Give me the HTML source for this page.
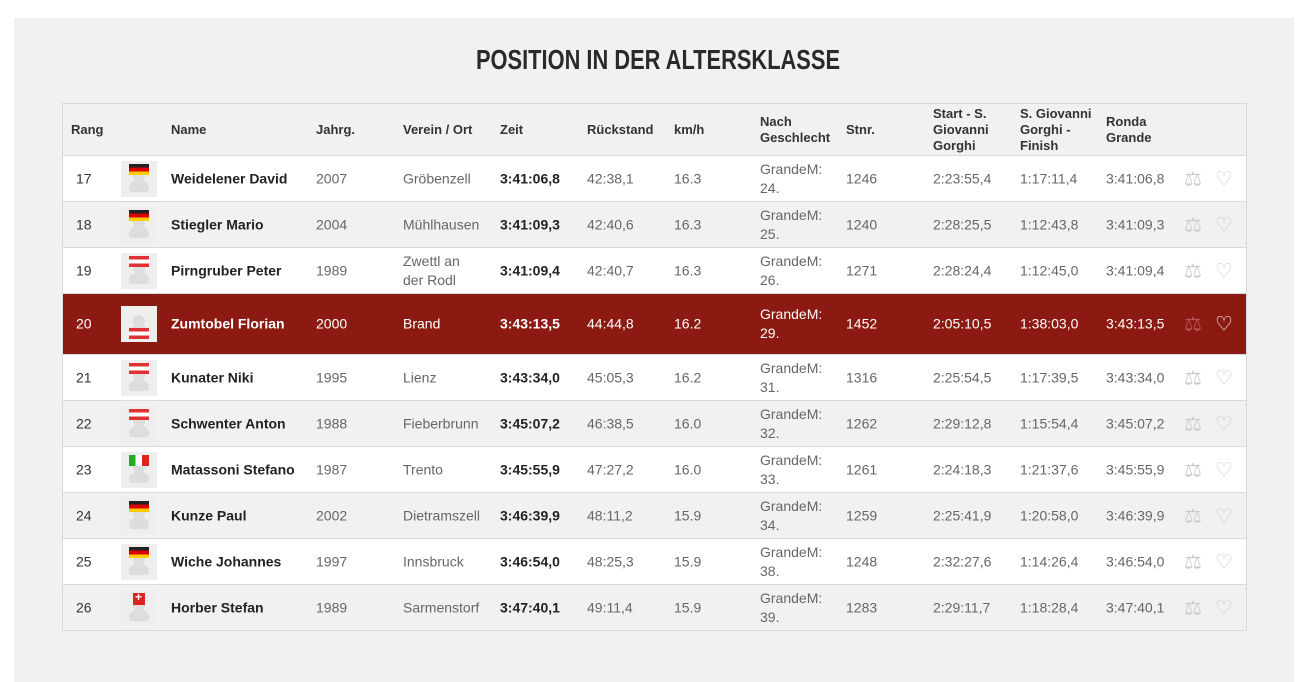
<!DOCTYPE html>
<html><head><meta charset="utf-8"><style>
body{margin:0;width:1316px;height:682px;background:#fff;font-family:"Liberation Sans",sans-serif;position:relative;overflow:hidden}
.panel{position:absolute;left:14px;top:18px;width:1280px;height:664px;background:#f1f1f1}
h1{position:absolute;left:0;width:1316px;top:44px;margin:0;text-align:center;font-size:28px;font-weight:bold;color:#2a2a2a;letter-spacing:0;transform:scaleX(0.78);}
.tbl{position:absolute;left:62px;top:103px;width:1183px;border:1px solid #d8d8e0;}
.row{position:relative;height:45px;border-top:1px solid #d8d8e0;font-size:14px;color:#666;}
.row.w{background:#fff}.row.g{background:#f1f1f1}
.row.h{background:#8d1a12;color:#fff;height:60px}
.hd{height:51px;background:#f1f1f1;font-size:13px;font-weight:bold;color:#333;position:relative}
.c{position:absolute;top:50%;transform:translateY(-50%);line-height:19px}
.hd .c{line-height:16px}
.rk{color:#333}.h .rk{color:#fff}
.nm{font-weight:bold;color:#222}.h .nm,.h .zt{color:#fff}
.zt{font-weight:bold;color:#222}
.av{position:absolute;left:58px;top:50%;margin-top:-18px;width:36px;height:36px;background:#eee}
.av .hd1{position:absolute;left:12px;top:9px;width:12px;height:12px;border-radius:50%;background:#ddd}
.av .bd{position:absolute;left:8px;top:20px;width:20px;height:11px;border-radius:7px 7px 3px 3px;background:#ddd}
.fl{position:absolute;left:8px;top:3px;width:20px;height:11px}
.h .fl{top:22px}
.de{background:linear-gradient(#222 0 33%,#d00 33% 66%,#fc0 66%)}
.at{background:linear-gradient(#d33 0 33%,#fff 33% 66%,#d33 66%)}
.it{background:linear-gradient(90deg,#2a2 0 33%,#fff 33% 66%,#d22 66%)}
.ch{background:#d22;width:12px;left:12px;height:12px}
.ch:after{content:"+";color:#fff;font-size:12px;font-weight:bold;position:absolute;left:2px;top:-3px}
.ic{position:absolute;top:50%;transform:translateY(-50%);color:#ccc;font-size:20px}
.h .ic.sc{color:#b55}.h .ic.ht{color:#fff}
</style></head><body>
<div class="panel"></div>
<h1>POSITION IN DER ALTERSKLASSE</h1>
<div class="tbl">
<div class="hd">
<span class="c" style="left:8px">Rang</span><span class="c" style="left:108px">Name</span><span class="c" style="left:253px">Jahrg.</span><span class="c" style="left:340px">Verein / Ort</span><span class="c" style="left:437px">Zeit</span><span class="c" style="left:524px">Rückstand</span><span class="c" style="left:611px">km/h</span><span class="c" style="left:697px">Nach<br>Geschlecht</span><span class="c" style="left:783px">Stnr.</span><span class="c" style="left:870px">Start - S.<br>Giovanni<br>Gorghi</span><span class="c" style="left:957px">S. Giovanni<br>Gorghi -<br>Finish</span><span class="c" style="left:1043px">Ronda<br>Grande</span>
</div>
<div class="row w"><span class="c rk" style="left:13px">17</span><div class="av"><div class="hd1"></div><div class="bd"></div><div class="fl de"></div></div><span class="c nm" style="left:108px">Weidelener David</span><span class="c" style="left:253px">2007</span><span class="c" style="left:340px">Gröbenzell</span><span class="c zt" style="left:437px">3:41:06,8</span><span class="c" style="left:524px">42:38,1</span><span class="c" style="left:611px">16.3</span><span class="c" style="left:697px">GrandeM:<br>24.</span><span class="c" style="left:783px">1246</span><span class="c" style="left:870px">2:23:55,4</span><span class="c" style="left:957px">1:17:11,4</span><span class="c" style="left:1043px">3:41:06,8</span><span class="ic sc" style="left:1121px">⚖</span><span class="ic ht" style="left:1152px">♡</span></div>
<div class="row g"><span class="c rk" style="left:13px">18</span><div class="av"><div class="hd1"></div><div class="bd"></div><div class="fl de"></div></div><span class="c nm" style="left:108px">Stiegler Mario</span><span class="c" style="left:253px">2004</span><span class="c" style="left:340px">Mühlhausen</span><span class="c zt" style="left:437px">3:41:09,3</span><span class="c" style="left:524px">42:40,6</span><span class="c" style="left:611px">16.3</span><span class="c" style="left:697px">GrandeM:<br>25.</span><span class="c" style="left:783px">1240</span><span class="c" style="left:870px">2:28:25,5</span><span class="c" style="left:957px">1:12:43,8</span><span class="c" style="left:1043px">3:41:09,3</span><span class="ic sc" style="left:1121px">⚖</span><span class="ic ht" style="left:1152px">♡</span></div>
<div class="row w"><span class="c rk" style="left:13px">19</span><div class="av"><div class="hd1"></div><div class="bd"></div><div class="fl at"></div></div><span class="c nm" style="left:108px">Pirngruber Peter</span><span class="c" style="left:253px">1989</span><span class="c" style="left:340px">Zwettl an<br>der Rodl</span><span class="c zt" style="left:437px">3:41:09,4</span><span class="c" style="left:524px">42:40,7</span><span class="c" style="left:611px">16.3</span><span class="c" style="left:697px">GrandeM:<br>26.</span><span class="c" style="left:783px">1271</span><span class="c" style="left:870px">2:28:24,4</span><span class="c" style="left:957px">1:12:45,0</span><span class="c" style="left:1043px">3:41:09,4</span><span class="ic sc" style="left:1121px">⚖</span><span class="ic ht" style="left:1152px">♡</span></div>
<div class="row h"><span class="c rk" style="left:13px">20</span><div class="av"><div class="hd1"></div><div class="bd"></div><div class="fl at"></div></div><span class="c nm" style="left:108px">Zumtobel Florian</span><span class="c" style="left:253px">2000</span><span class="c" style="left:340px">Brand</span><span class="c zt" style="left:437px">3:43:13,5</span><span class="c" style="left:524px">44:44,8</span><span class="c" style="left:611px">16.2</span><span class="c" style="left:697px">GrandeM:<br>29.</span><span class="c" style="left:783px">1452</span><span class="c" style="left:870px">2:05:10,5</span><span class="c" style="left:957px">1:38:03,0</span><span class="c" style="left:1043px">3:43:13,5</span><span class="ic sc" style="left:1121px">⚖</span><span class="ic ht" style="left:1152px">♡</span></div>
<div class="row w"><span class="c rk" style="left:13px">21</span><div class="av"><div class="hd1"></div><div class="bd"></div><div class="fl at"></div></div><span class="c nm" style="left:108px">Kunater Niki</span><span class="c" style="left:253px">1995</span><span class="c" style="left:340px">Lienz</span><span class="c zt" style="left:437px">3:43:34,0</span><span class="c" style="left:524px">45:05,3</span><span class="c" style="left:611px">16.2</span><span class="c" style="left:697px">GrandeM:<br>31.</span><span class="c" style="left:783px">1316</span><span class="c" style="left:870px">2:25:54,5</span><span class="c" style="left:957px">1:17:39,5</span><span class="c" style="left:1043px">3:43:34,0</span><span class="ic sc" style="left:1121px">⚖</span><span class="ic ht" style="left:1152px">♡</span></div>
<div class="row g"><span class="c rk" style="left:13px">22</span><div class="av"><div class="hd1"></div><div class="bd"></div><div class="fl at"></div></div><span class="c nm" style="left:108px">Schwenter Anton</span><span class="c" style="left:253px">1988</span><span class="c" style="left:340px">Fieberbrunn</span><span class="c zt" style="left:437px">3:45:07,2</span><span class="c" style="left:524px">46:38,5</span><span class="c" style="left:611px">16.0</span><span class="c" style="left:697px">GrandeM:<br>32.</span><span class="c" style="left:783px">1262</span><span class="c" style="left:870px">2:29:12,8</span><span class="c" style="left:957px">1:15:54,4</span><span class="c" style="left:1043px">3:45:07,2</span><span class="ic sc" style="left:1121px">⚖</span><span class="ic ht" style="left:1152px">♡</span></div>
<div class="row w"><span class="c rk" style="left:13px">23</span><div class="av"><div class="hd1"></div><div class="bd"></div><div class="fl it"></div></div><span class="c nm" style="left:108px">Matassoni Stefano</span><span class="c" style="left:253px">1987</span><span class="c" style="left:340px">Trento</span><span class="c zt" style="left:437px">3:45:55,9</span><span class="c" style="left:524px">47:27,2</span><span class="c" style="left:611px">16.0</span><span class="c" style="left:697px">GrandeM:<br>33.</span><span class="c" style="left:783px">1261</span><span class="c" style="left:870px">2:24:18,3</span><span class="c" style="left:957px">1:21:37,6</span><span class="c" style="left:1043px">3:45:55,9</span><span class="ic sc" style="left:1121px">⚖</span><span class="ic ht" style="left:1152px">♡</span></div>
<div class="row g"><span class="c rk" style="left:13px">24</span><div class="av"><div class="hd1"></div><div class="bd"></div><div class="fl de"></div></div><span class="c nm" style="left:108px">Kunze Paul</span><span class="c" style="left:253px">2002</span><span class="c" style="left:340px">Dietramszell</span><span class="c zt" style="left:437px">3:46:39,9</span><span class="c" style="left:524px">48:11,2</span><span class="c" style="left:611px">15.9</span><span class="c" style="left:697px">GrandeM:<br>34.</span><span class="c" style="left:783px">1259</span><span class="c" style="left:870px">2:25:41,9</span><span class="c" style="left:957px">1:20:58,0</span><span class="c" style="left:1043px">3:46:39,9</span><span class="ic sc" style="left:1121px">⚖</span><span class="ic ht" style="left:1152px">♡</span></div>
<div class="row w"><span class="c rk" style="left:13px">25</span><div class="av"><div class="hd1"></div><div class="bd"></div><div class="fl de"></div></div><span class="c nm" style="left:108px">Wiche Johannes</span><span class="c" style="left:253px">1997</span><span class="c" style="left:340px">Innsbruck</span><span class="c zt" style="left:437px">3:46:54,0</span><span class="c" style="left:524px">48:25,3</span><span class="c" style="left:611px">15.9</span><span class="c" style="left:697px">GrandeM:<br>38.</span><span class="c" style="left:783px">1248</span><span class="c" style="left:870px">2:32:27,6</span><span class="c" style="left:957px">1:14:26,4</span><span class="c" style="left:1043px">3:46:54,0</span><span class="ic sc" style="left:1121px">⚖</span><span class="ic ht" style="left:1152px">♡</span></div>
<div class="row g"><span class="c rk" style="left:13px">26</span><div class="av"><div class="hd1"></div><div class="bd"></div><div class="fl ch"></div></div><span class="c nm" style="left:108px">Horber Stefan</span><span class="c" style="left:253px">1989</span><span class="c" style="left:340px">Sarmenstorf</span><span class="c zt" style="left:437px">3:47:40,1</span><span class="c" style="left:524px">49:11,4</span><span class="c" style="left:611px">15.9</span><span class="c" style="left:697px">GrandeM:<br>39.</span><span class="c" style="left:783px">1283</span><span class="c" style="left:870px">2:29:11,7</span><span class="c" style="left:957px">1:18:28,4</span><span class="c" style="left:1043px">3:47:40,1</span><span class="ic sc" style="left:1121px">⚖</span><span class="ic ht" style="left:1152px">♡</span></div>
</div>
</body></html>
